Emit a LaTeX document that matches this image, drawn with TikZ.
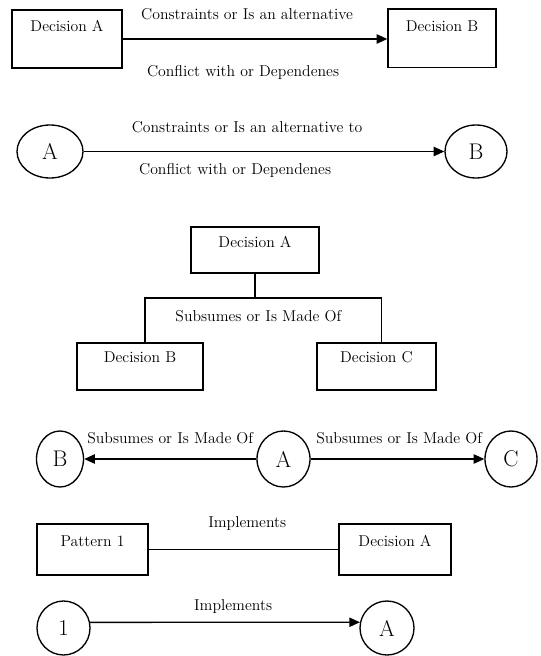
\documentclass[tikz,border=0pt]{standalone}
\usepackage{tikz}
\usetikzlibrary{arrows.meta,shapes.geometric}

\begin{document}
\begin{tikzpicture}[>={Triangle[length=8pt,width=7pt]},x=0.75pt,y=-0.75pt,line width=1pt,
  font=\fontsize{11.8}{14}\selectfont,
  box/.style={draw,inner sep=0pt},
  oval/.style={draw,ellipse,inner sep=0pt,font=\fontsize{17}{20}\selectfont},
  intext/.style={anchor=center,inner sep=0pt,yshift=#1},
  lbl/.style={inner sep=0pt}]
\useasboundingbox (0,0) rectangle (540,656);
% row 1: boxes
\node[box,minimum width=82.5pt,minimum height=43.5pt,label={[intext=-12.75pt]north:Decision A}] (da) at (67,39) {};
\node[box,minimum width=81pt,minimum height=44pt,label={[intext=-13.5pt]north:Decision B}] (db) at (442,38.5) {};
\draw[->] (da.east) -- (da.east -| db.west)
  node[lbl,pos=0.47,yshift=18.75pt] (ca1) {Constraints or Is an alternative}
  node[lbl,pos=0.455,yshift=-24.75pt] (cf1) {Conflict with or Dependenes};
% row 2: ovals
\node[oval,minimum width=49.5pt,minimum height=39.75pt] (ea) at (50,151.5) {A};
\node[oval,minimum width=46.5pt,minimum height=39.75pt] (eb) at (476,151.5) {B};
\draw[->] (ea) -- (eb)
  node[lbl,pos=0.453,yshift=18pt] (ca2) {Constraints or Is an alternative to}
  node[lbl,pos=0.42,yshift=-14.25pt] (cf2) {Conflict with or Dependenes};
% row 3: tree
\node[box,minimum width=96pt,minimum height=34.5pt,label={[intext=-12pt]north:Decision A}] (ta) at (255,250) {};
\node[box,minimum width=94.5pt,minimum height=35.25pt,label={[intext=-11.25pt]north:Decision B}] (tb) at (140,366.5) {};
\node[box,minimum width=89.25pt,minimum height=35.25pt,label={[intext=-11.25pt]north:Decision C}] (tc) at (376.5,366.5) {};
\coordinate (bar) at (255,298);
\draw (ta.south) -- (bar);
\draw ([xshift=3.75pt]tb.north) -- ([xshift=3.75pt]tb.north |- bar) -- ([xshift=3.5pt]tc.north |- bar)
  node[lbl,pos=0.48,yshift=-13.5pt] (sm) {Subsumes or Is Made Of}
  -- ([xshift=3.5pt]tc.north);
% row 4: circles
\node[oval,minimum width=35.25pt,minimum height=42pt] (cb) at (60,459) {B};
\node[oval,minimum width=39.75pt,minimum height=42pt] (cx) at (283.5,459) {A};
\node[oval,minimum width=39pt,minimum height=42pt] (cc) at (511,459) {C};
\draw[->] (cx) -- (cb) node[lbl,pos=0.5,yshift=15.75pt] (sl) {Subsumes or Is Made Of};
\draw[->] (cx) -- (cc) node[lbl,pos=0.51,yshift=15.75pt] (sr) {Subsumes or Is Made Of};
% row 5: pattern boxes
\node[box,minimum width=83.25pt,minimum height=38.25pt,label={[intext=-13.5pt]north:Pattern 1}] (pa) at (92.5,549.5) {};
\node[box,minimum width=84pt,minimum height=38.25pt,label={[intext=-13.5pt]north:Decision A}] (pd) at (395,549.5) {};
\draw (pa.east) -- (pd.west) node[lbl,pos=0.52,yshift=19.5pt] (im1) {Implements};
% row 6: pattern circles
\node[oval,minimum width=39.75pt,minimum height=40.5pt] (c1) at (63.5,628) {1};
\node[oval,minimum width=40.5pt,minimum height=40.5pt] (ca) at (387,628) {A};
\draw[->] (c1.12) -- (ca.168) node[lbl,pos=0.53,yshift=12pt] (im2) {Implements};
\end{tikzpicture}
\end{document}
